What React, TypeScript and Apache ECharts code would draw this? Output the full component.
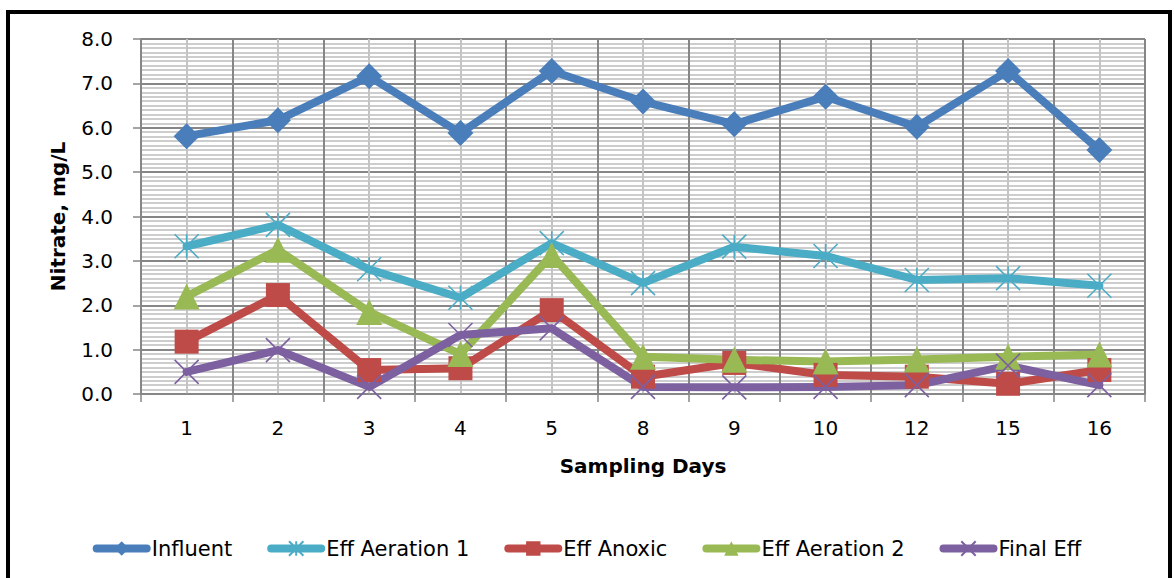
import React, { useEffect, useRef } from "react";
import * as echarts from "echarts";

const days = ["1", "2", "3", "4", "5", "8", "9", "10", "12", "15", "16"];
const influent = [5.81, 6.17, 7.16, 5.88, 7.28, 6.59, 6.08, 6.7, 6.02, 7.28, 5.5];
const effAeration1 = [3.33, 3.81, 2.81, 2.17, 3.4, 2.5, 3.32, 3.11, 2.57, 2.61, 2.44];
const effAnoxic = [1.18, 2.23, 0.54, 0.58, 1.89, 0.39, 0.7, 0.43, 0.39, 0.23, 0.54];
const effAeration2 = [2.2, 3.25, 1.85, 0.9, 3.13, 0.84, 0.77, 0.73, 0.78, 0.84, 0.89];
const finalEff = [0.5, 0.99, 0.16, 1.33, 1.48, 0.16, 0.15, 0.16, 0.2, 0.64, 0.2];

const FONT = "DejaVu Sans";
const STAR = "path://M0 0 L10 10 M10 0 L0 10 M5 0 L5 10";
const CROSS = "path://M0 0 L10 10 M10 0 L0 10";

export default function App() {
  const ref = useRef<HTMLDivElement>(null);
  useEffect(() => {
    if (!ref.current) return;
    const chart = echarts.init(ref.current, undefined, { renderer: "svg" });
    const mk = (name: string, data: number[], color: string, symbol: string, size: number, stroke: boolean) => ({
      name,
      type: "line",
      data,
      xAxisIndex: 0,
      yAxisIndex: 0,
      symbol,
      symbolSize: size,
      showAllSymbol: true,
      lineStyle: { color, width: 8, cap: "round", join: "round" },
      itemStyle: stroke
        ? { color: "rgba(0,0,0,0)", borderColor: color, borderWidth: 1.6 }
        : { color, borderWidth: 0 },
      emphasis: { disabled: true },
    });
    chart.setOption({
      animation: false,
      graphic: [
        {
          type: "rect",
          shape: { x: 8, y: 12, width: 1162, height: 600 },
          style: { fill: "none", stroke: "#000", lineWidth: 4 },
          silent: true,
          z: 100,
        },
      ],
      grid: { left: 141, right: 29, top: 39, bottom: 184, containLabel: false },
      legend: {
        left: "center",
        top: 533,
        itemWidth: 50,
        itemHeight: 18,
        itemGap: 35,
        lineStyle: { width: 8, cap: "round" },
        textStyle: { fontFamily: FONT, fontSize: 21, color: "#000" },
        data: ["Influent", "Eff Aeration 1", "Eff Anoxic", "Eff Aeration 2", "Final Eff"],
      },
      xAxis: [
        {
          type: "category",
          data: days,
          boundaryGap: true,
          name: "Sampling Days",
          nameLocation: "middle",
          nameGap: 62,
          nameTextStyle: { fontFamily: FONT, fontSize: 20, fontWeight: "bold", color: "#000" },
          axisLine: { show: true, lineStyle: { color: "#868686", width: 1.5 } },
          axisTick: { show: true, length: 8, lineStyle: { color: "#868686", width: 1.5 } },
          axisLabel: { fontFamily: FONT, fontSize: 20, color: "#000", margin: 24 },
          splitLine: { show: false },
        },
        {
          type: "value",
          min: 0,
          max: 22,
          interval: 1,
          show: true,
          axisLine: { show: false },
          axisTick: { show: false },
          axisLabel: { show: false },
          splitLine: { show: true, lineStyle: { color: ["#868686", "#C4C4C4"], width: 2 } },
        },
      ],
      yAxis: {
        type: "value",
        min: 0,
        max: 8,
        interval: 1,
        name: "Nitrate, mg/L",
        nameLocation: "middle",
        nameGap: 73,
        nameTextStyle: { fontFamily: FONT, fontSize: 20, fontWeight: "bold", color: "#000" },
        axisLine: { show: true, lineStyle: { color: "#868686", width: 1.5 } },
        axisTick: { show: true, length: 8, lineStyle: { color: "#868686", width: 1.5 } },
        axisLabel: {
          fontFamily: FONT,
          fontSize: 20,
          color: "#000",
          margin: 28,
          formatter: (v: number) => v.toFixed(1),
        },
        splitLine: { show: true, lineStyle: { color: "#868686", width: 2 } },
        minorTick: { show: false, splitNumber: 10 },
        minorSplitLine: { show: true, lineStyle: { color: "#BDBDBD", width: 1.5 } },
      },
      series: [
        mk("Influent", influent, "#4A7EBB", "diamond", 26, false),
        mk("Eff Aeration 1", effAeration1, "#4BACC6", STAR, 24, true),
        mk("Eff Anoxic", effAnoxic, "#BE4B48", "rect", 24, false),
        mk("Eff Aeration 2", effAeration2, "#98B954", "triangle", 26, false),
        mk("Final Eff", finalEff, "#7D60A0", CROSS, 24, true),
      ],
    });
    return () => chart.dispose();
  }, []);
  return (
    <div
      ref={ref}
      style={{ position: "absolute", left: 0, top: 0, width: 1174, height: 578, background: "#fff" }}
    />
  );
}
